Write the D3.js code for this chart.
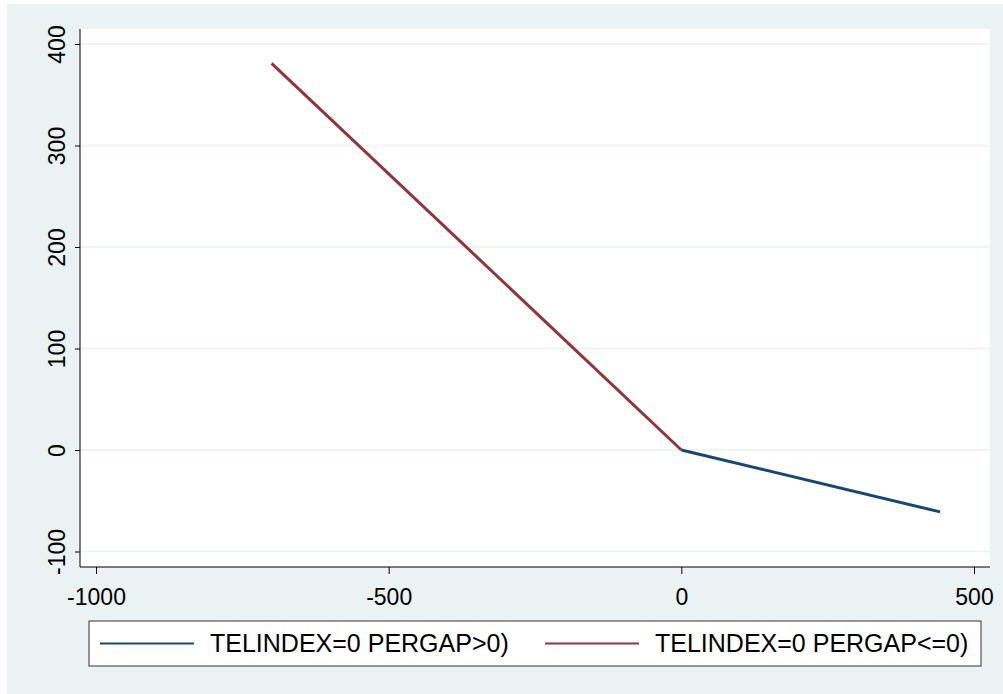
<!DOCTYPE html>
<html><head><meta charset="utf-8">
<script src="https://cdn.jsdelivr.net/npm/d3@7"></script>
<style>body{margin:0;background:#fff}</style>
</head><body>
<script>
const xTicks = [-1000, -500, 0, 500]
const yTicks = [-100, 0, 100, 200, 300, 400]
const seriesNames = ['TELINDEX=0 PERGAP>0)', 'TELINDEX=0 PERGAP<=0)']
const seriesColors = ['#1a476f', '#90353b']
const blueX = [0, 442]
const blueY = [0, -61]
const redX = [-700, 0]
const redY = [381, 0]

let svg = d3.select('body').append('svg').attr('width', 1003).attr('height', 694)
  .style('font-family', "'Liberation Sans', Arial, sans-serif")

svg.append('rect').attr('x', 7).attr('y', 4).attr('width', 996).attr('height', 690).attr('fill', '#eaf2f3')

let x = d3.scaleLinear().domain([-1000, 500]).range([96, 974])
let y = d3.scaleLinear().domain([0, 400]).range([450, 44])

let L = 80, R = 990, T = 29, B = 567
svg.append('rect').attr('x', L).attr('y', T).attr('width', R - L).attr('height', B - T).attr('fill', '#fff')

svg.selectAll('line.grid').data(yTicks).enter().append('line')
  .attr('x1', L).attr('x2', R).attr('y1', d => y(d)).attr('y2', d => y(d))
  .attr('stroke', '#eaf2f3').attr('stroke-width', 1.5)

let yAxis = svg.append('g').attr('transform', `translate(${L},0)`)
  .call(d3.axisLeft(y).tickValues(yTicks).tickFormat(d => String(d)).tickSize(5).tickSizeOuter(0))
yAxis.select('.domain').attr('d', `M0,${T}V${B}`)
yAxis.selectAll('.tick text').style('font-size', '23px').attr('fill', '#000')
  .attr('transform', 'rotate(-90)').attr('x', 0).attr('y', -15).attr('dy', 0).attr('text-anchor', 'middle')
yAxis.selectAll('line, path').attr('stroke', '#000')

let xAxis = svg.append('g').attr('transform', `translate(0,${B})`)
  .call(d3.axisBottom(x).tickValues(xTicks).tickFormat(d => String(d)).tickSize(7).tickSizeOuter(0))
xAxis.select('.domain').attr('d', `M${L},0H${R}`)
xAxis.selectAll('.tick text').style('font-size', '23px').attr('fill', '#000').attr('y', 38).attr('dy', 0)
xAxis.selectAll('line, path').attr('stroke', '#000')

let line = d3.line().x(d => x(d[0])).y(d => y(d[1]))
svg.append('path').datum(blueX.map((v, i) => [v, blueY[i]])).attr('d', line)
  .attr('fill', 'none').attr('stroke', seriesColors[0]).attr('stroke-width', 3)
svg.append('path').datum(redX.map((v, i) => [v, redY[i]])).attr('d', line)
  .attr('fill', 'none').attr('stroke', seriesColors[1]).attr('stroke-width', 3)

svg.append('rect').attr('x', 89).attr('y', 621).attr('width', 892).attr('height', 45)
  .attr('fill', '#fff').attr('stroke', '#333').attr('stroke-width', 1)
let lx = [100, 545]
seriesNames.forEach((n, i) => {
  svg.append('line').attr('x1', lx[i]).attr('x2', lx[i] + 94).attr('y1', 643.5).attr('y2', 643.5)
    .attr('stroke', seriesColors[i]).attr('stroke-width', 2)
  svg.append('text').attr('x', lx[i] + 110).attr('y', 652).style('font-size', '25px').text(n)
})
</script>
</body></html>
